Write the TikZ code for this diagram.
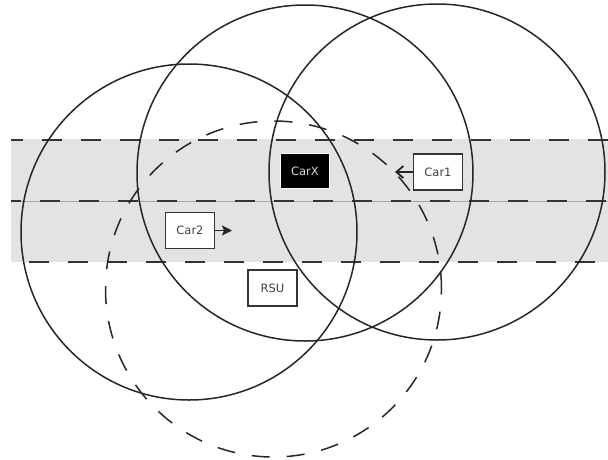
\documentclass[tikz,border=0pt]{standalone}
\usepackage{fontspec}
\setmainfont{DejaVu Sans}
\usetikzlibrary{arrows.meta}
\definecolor{band}{HTML}{E3E3E3}
\definecolor{txt}{HTML}{404040}
\tikzset{
  rangecircle/.style={draw=black!85, line width=1.5pt},
  dashcircle/.style={draw=black!85, line width=1.5pt, dash pattern=on 18pt off 17pt},
  lane/.style={draw=black!80, line width=1.8pt, dash pattern=on 20pt off 19pt},
  carbox/.style={draw=black!80, fill=white, line width=1.5pt, minimum width=49pt, minimum height=36pt, inner sep=0pt, text=txt, font=\fontsize{11.5}{13}\selectfont},
  xbox/.style={draw=white, fill=black, line width=1pt, minimum width=49pt, minimum height=35pt, inner sep=0pt, text=white!85!black, font=\fontsize{11.5}{13}\selectfont},
  move/.style={line width=1.8pt, draw=black!85}
}
\begin{document}
\begin{tikzpicture}[x=1pt,y=-1pt]
\useasboundingbox (0,0) rectangle (608,459);
% road band
\fill[band] (11,139) rectangle (608,262);
\draw[line width=0.5pt, black!35] (11,201) -- (608,201);
\draw[lane, dash phase=8pt] (11,140) -- (608,140);
\draw[lane, dash phase=10pt] (11,201) -- (608,201);
\draw[lane, dash phase=21pt] (11,262) -- (608,262);
% ranges
\draw[rangecircle] (189,232) circle (168pt);
\draw[rangecircle] (305,173) circle (168pt);
\draw[rangecircle] (437,172) circle (168pt);
\draw[dashcircle] (273.5,289) circle (168pt);
% nodes
\node[xbox] (carx) at (305,171) {CarX};
\node[carbox] (car1) at (438,172) {Car1};
\node[carbox] (car2) at (190,230.5) {Car2};
\node[carbox] (rsu) at (272.5,288) {RSU};
\coordinate (c1tip) at (395,172);
\coordinate (c2tip) at (232,230.5);
\draw[move, -{Straight Barb[length=7pt,width=12pt]}] (car1.west) -- (c1tip);
\draw[move, -{Stealth[length=10pt,width=10pt,inset=2pt]}] (car2.east) -- (c2tip);
\end{tikzpicture}
\end{document}
